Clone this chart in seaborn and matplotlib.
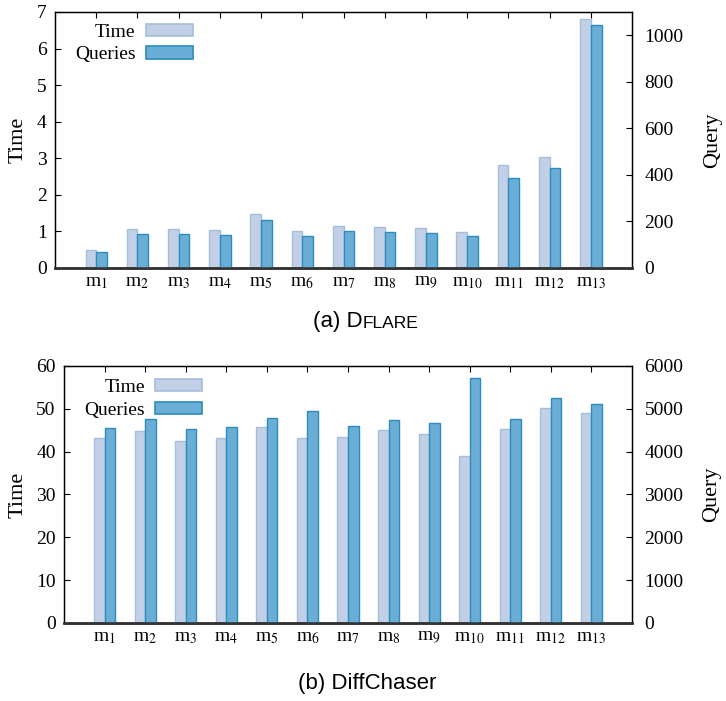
import numpy as np
import pandas as pd
import matplotlib
matplotlib.use('Agg')
import matplotlib.pyplot as plt
import seaborn as sns
from matplotlib.patches import Patch
from matplotlib.offsetbox import TextArea, HPacker, AnchoredOffsetbox

# datos
modelos = ['m1', 'm2', 'm3', 'm4', 'm5', 'm6', 'm7', 'm8', 'm9', 'm10', 'm11', 'm12', 'm13']
etiquetas = [f'm$_{{{i}}}$' for i in range(1, 14)]

dflare_time = [0.50, 1.06, 1.06, 1.03, 1.47, 1.00, 1.15, 1.11, 1.08, 0.98, 2.82, 3.04, 6.80]
dflare_query = [69, 147, 146, 140, 206, 137, 157, 154, 149, 136, 387, 430, 1046]

diffchaser_time = [43.1, 44.8, 42.5, 43.3, 45.8, 43.1, 43.5, 45.0, 44.2, 39.1, 45.2, 50.3, 49.0]
diffchaser_query = [4557, 4752, 4519, 4573, 4790, 4953, 4604, 4744, 4666, 5730, 4767, 5256, 5109]

sns.set_style('ticks')
plt.rcParams['font.family'] = ['Liberation Serif', 'DejaVu Serif']
plt.rcParams['mathtext.fontset'] = 'stix'
for k in ['text.color', 'axes.labelcolor', 'xtick.color', 'ytick.color']:
    plt.rcParams[k] = 'black'

c_time, e_time = '#c1d0e6', '#a6bddb'
c_query, e_query = '#6aaed6', '#2b8cbe'

fig = plt.figure(figsize=(7.26, 7.01), dpi=100)
ax_a = fig.add_axes([0.0758, 0.6177, 0.7948, 0.3652])
ax_b = fig.add_axes([0.0882, 0.1113, 0.7824, 0.3666])


def panel(ax, time, query, tmax, tstep, qmax, qstep, xl, xr, leg_x, leg_y):
    pos = np.arange(1, len(modelos) + 1)
    df = pd.DataFrame({'pos': pos, 'time': time, 'query': query})
    ax2 = ax.twinx()
    sns.barplot(data=df.assign(x=df['pos'] - 0.13), x='x', y='time', native_scale=True,
                width=0.26, color=c_time, edgecolor=e_time, linewidth=1.0,
                saturation=1, ax=ax)
    sns.barplot(data=df.assign(x=df['pos'] + 0.13), x='x', y='query', native_scale=True,
                width=0.26, color=c_query, edgecolor=e_query, linewidth=1.0,
                saturation=1, ax=ax2)
    for a in (ax, ax2):
        a.set_xlim(0, 14)
        a.set_xlabel('')
    ax.set_ylim(0, tmax)
    ax.set_yticks(np.arange(0, tmax + 0.01, tstep))
    ax2.set_ylim(0, qmax)
    ax2.set_yticks(np.arange(0, qmax + 1, qstep))
    ax.set_xticks(pos)
    ax.set_xticklabels(etiquetas, fontsize=14)
    ax.tick_params(axis='x', bottom=False, top=True, labelbottom=True, labeltop=False,
                   direction='in', length=4, pad=4)
    ax.tick_params(axis='y', direction='in', length=4, labelsize=14, pad=6)
    ax2.tick_params(axis='y', direction='in', length=4, labelsize=14, pad=9)
    ax.set_ylabel('Time', fontsize=16)
    ax2.set_ylabel('Query', fontsize=16)
    ax.yaxis.set_label_coords(xl, 0.5)
    ax2.yaxis.set_label_coords(xr, 0.5)
    for a in (ax, ax2):
        for s in a.spines.values():
            s.set_visible(True)
            s.set_linewidth(0.9)
            s.set_color('black')
        a.spines['bottom'].set_linewidth(1.8)
        a.spines['bottom'].set_color('#333333')
    handles = [Patch(facecolor=c_time, edgecolor=e_time, linewidth=1.2, label='Time'),
               Patch(facecolor=c_query, edgecolor=e_query, linewidth=1.2, label='Queries')]
    ax2.legend(handles=handles, loc='upper right', bbox_to_anchor=(leg_x, leg_y),
               frameon=False, markerfirst=False, fontsize=14, handlelength=2.4,
               handleheight=0.6, handletextpad=0.55, labelspacing=0.3,
               borderpad=0, borderaxespad=0)
    return ax2


panel(ax_a, dflare_time, dflare_query, 7, 1, 1100, 200, -0.048, 1.123, 0.239, 0.955)
panel(ax_b, diffchaser_time, diffchaser_query, 60, 10, 6000, 1000, -0.064, 1.124, 0.243, 0.95)


def caption(partes, x, y):
    cajas = [TextArea(t, textprops=dict(fontsize=s, family='Liberation Sans')) for t, s in partes]
    caja = HPacker(children=cajas, align='baseline', pad=0, sep=0)
    anc = AnchoredOffsetbox(loc='center', child=caja, pad=0, frameon=False,
                            bbox_to_anchor=(x, y), bbox_transform=fig.transFigure,
                            borderpad=0)
    fig.add_artist(anc)


caption([('(a) D', 16), ('FLARE', 12.5)], 366 / 726, 1 - 322 / 701)
caption([('(b) DiffChaser', 16)], 367 / 726, 1 - 683 / 701)

fig.savefig('out.png', dpi=100)
